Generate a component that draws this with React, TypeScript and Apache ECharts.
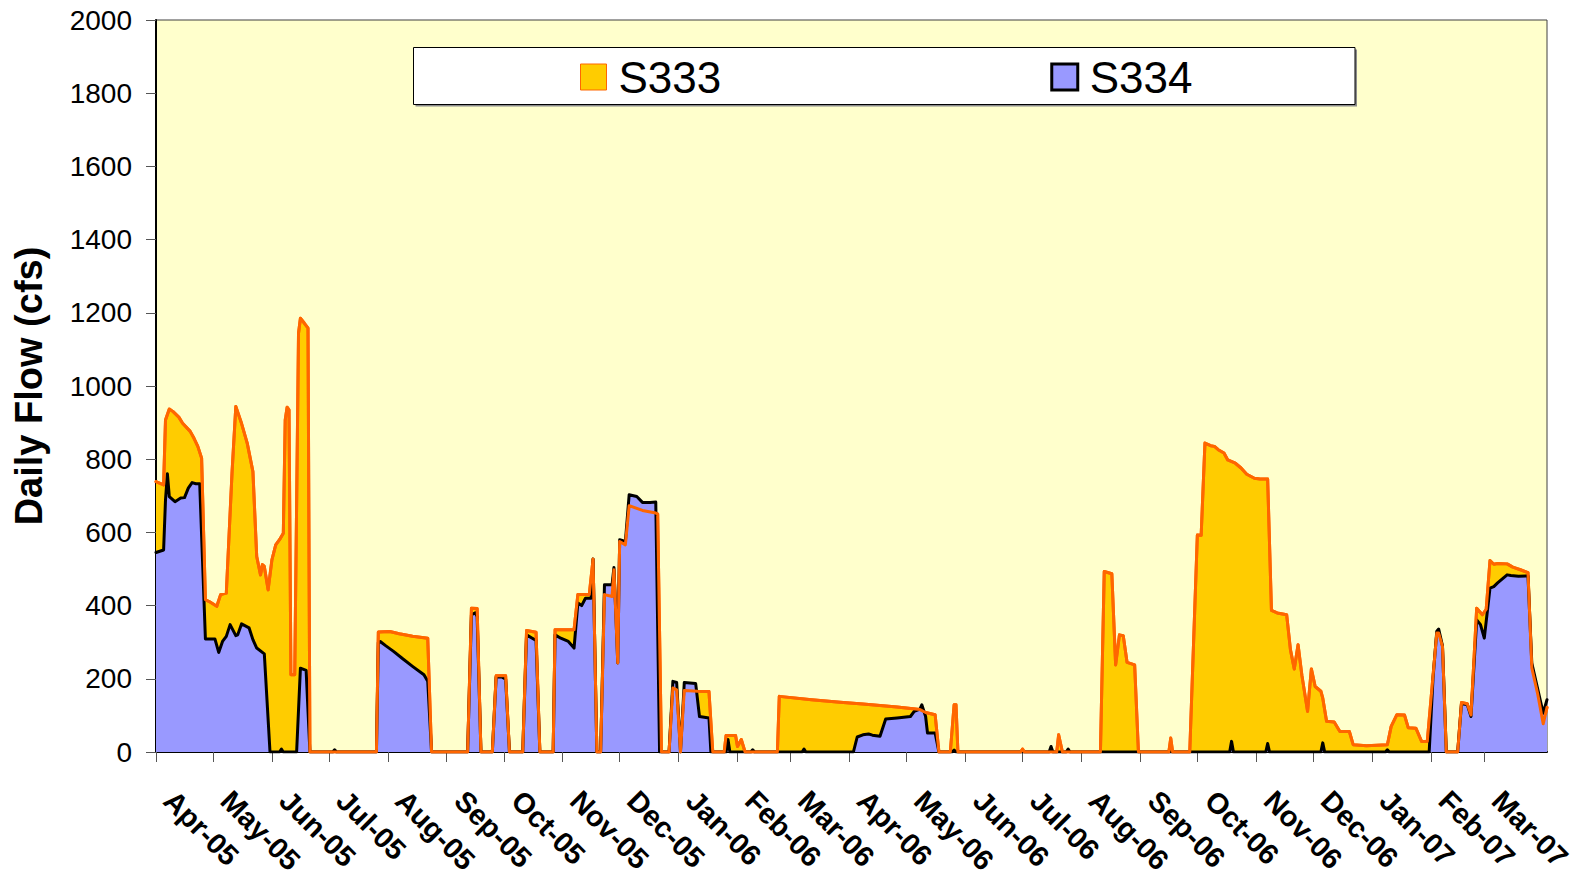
import React, { useEffect, useRef } from "react";
import * as echarts from "echarts";

// Axis: one category per day, starting 2005-04-01 (day index 0) to 2007-04-02 (day index 732)
const START_YEAR = 2005;
const START_MONTH = 3; // April (0-based)
const DAY_COUNT = 733;
const MONTHS = ["Jan", "Feb", "Mar", "Apr", "May", "Jun", "Jul", "Aug", "Sep", "Oct", "Nov", "Dec"];

const Y_MIN = 0;
const Y_MAX = 2000;
const Y_INTERVAL = 200;

const LEGEND_NAMES = ["S333", "S334"];

// [day index from 2005-04-01, daily flow (cfs)]
const S333: [number, number][] = [
  [0, 739], [4, 730], [5, 907], [7, 937], [9, 930], [12, 915], [14, 898], [18, 876], [20, 857], [22, 835], [24, 803],
  [26, 416], [28, 411], [32, 398], [34, 430], [37, 434], [40, 762], [42, 944], [45, 898], [48, 844], [51, 766],
  [53, 534], [55, 484], [56, 512], [57, 507], [59, 443], [61, 525], [63, 566], [65, 580], [67, 598], [68, 907],
  [69, 942], [70, 935], [71, 211], [73, 211], [75, 1144], [76, 1185], [78, 1172], [80, 1158], [81, 0],
  [116, 0], [117, 328], [123, 329], [128, 323], [135, 316], [143, 311], [145, 0],
  [164, 0], [166, 393], [169, 392], [171, 0],
  [177, 0], [179, 208], [184, 208], [186, 0],
  [193, 0], [195, 332], [200, 327], [202, 0],
  [209, 0], [210, 334], [220, 334], [222, 430], [228, 430], [230, 527], [232, 0], [234, 0], [236, 430], [240, 425],
  [241, 498], [243, 243], [244, 575], [247, 566], [249, 673], [256, 660], [263, 653], [264, 650], [266, 0],
  [270, 0], [272, 175], [274, 170], [276, 0], [278, 168], [285, 166], [291, 165], [293, 0],
  [299, 0], [300, 45], [305, 45], [306, 15], [308, 34], [310, 0],
  [327, 0], [328, 152], [345, 143], [360, 136], [372, 131], [390, 123], [402, 116], [405, 108], [410, 102], [412, 0],
  [418, 0], [420, 129], [421, 129], [422, 0],
  [455, 0], [456, 8], [457, 0],
  [474, 0], [475, 47], [477, 0],
  [497, 0], [499, 493], [503, 487], [505, 238], [507, 320], [509, 318], [511, 245], [515, 238], [517, 0],
  [533, 0], [534, 38], [535, 0],
  [544, 0], [548, 593], [550, 592], [552, 844], [555, 837], [557, 835], [559, 826], [562, 817], [564, 798],
  [568, 789], [571, 776], [574, 759], [578, 748], [581, 746], [585, 746], [587, 387], [590, 380], [595, 375],
  [597, 279], [599, 227], [601, 293], [603, 210], [606, 111], [608, 227], [610, 179], [613, 166], [614, 147],
  [616, 84], [620, 82], [623, 56], [628, 56], [630, 20], [637, 17], [648, 20], [650, 70], [653, 102], [657, 101],
  [659, 66], [663, 65], [666, 29], [669, 29], [674, 325], [675, 325], [677, 288], [679, 0],
  [685, 0], [687, 135], [690, 132], [692, 101], [695, 393], [698, 375], [700, 390], [702, 523], [704, 513],
  [706, 515], [711, 514], [714, 505], [718, 498], [722, 490], [724, 230], [727, 161], [730, 77], [732, 122],
];

const S334: [number, number][] = [
  [0, 545], [4, 552], [5, 689], [6, 760], [7, 698], [10, 684], [13, 694], [15, 695], [17, 721], [19, 736], [21, 733],
  [23, 733], [26, 309], [31, 309], [33, 272], [35, 302], [37, 316], [39, 348], [42, 318], [43, 320], [45, 350],
  [49, 339], [51, 307], [53, 284], [57, 268], [60, 0],
  [65, 0], [66, 8], [67, 0],
  [74, 0], [76, 229], [79, 223], [81, 0],
  [93, 0], [94, 6], [95, 0],
  [116, 0], [117, 299], [118, 302], [121, 290], [125, 275], [130, 254], [135, 234], [141, 211], [143, 193], [145, 0],
  [164, 0], [166, 375], [168, 380], [169, 370], [171, 0],
  [177, 0], [179, 205], [182, 205], [184, 199], [186, 0],
  [193, 0], [195, 320], [198, 311], [200, 305], [202, 0],
  [209, 0], [210, 320], [213, 311], [217, 302], [220, 284], [222, 407], [224, 400], [226, 420], [229, 420],
  [230, 527], [232, 0], [234, 0], [236, 457], [240, 457], [241, 504], [243, 243], [244, 580], [247, 575],
  [249, 703], [253, 698], [256, 682], [260, 682], [263, 683], [265, 0],
  [270, 0], [272, 193], [274, 190], [276, 0], [278, 190], [284, 187], [286, 97], [291, 93], [292, 0],
  [300, 0], [301, 34], [302, 0],
  [313, 0], [314, 6], [315, 0],
  [340, 0], [341, 8], [342, 0],
  [367, 0], [369, 41], [372, 47], [375, 49], [377, 46], [381, 43], [384, 90], [390, 93], [397, 97], [399, 111],
  [402, 117], [403, 129], [405, 97], [406, 52], [410, 52], [412, 0],
  [419, 0], [420, 5], [421, 0],
  [470, 0], [471, 15], [472, 0],
  [479, 0], [480, 8], [481, 0],
  [565, 0], [566, 29], [567, 0],
  [584, 0], [585, 23], [586, 0],
  [613, 0], [614, 25], [615, 0],
  [647, 0], [648, 6], [649, 0],
  [670, 0], [672, 200], [674, 330], [675, 336], [677, 290], [679, 0],
  [685, 0], [687, 132], [690, 130], [692, 97], [695, 361], [697, 348], [699, 311], [702, 448], [704, 452],
  [706, 462], [711, 484], [713, 482], [717, 480], [722, 481], [724, 243], [730, 106], [732, 143],
];

const pad = (n: number) => (n < 10 ? "0" + n : "" + n);
const categories: string[] = [];
for (let i = 0; i < DAY_COUNT; i++) {
  const dt = new Date(START_YEAR, START_MONTH, 1 + i);
  categories.push(`${dt.getFullYear()}-${pad(dt.getMonth() + 1)}-${pad(dt.getDate())}`);
}
const isMonthStart = (_i: number, v: string) => v.slice(8) === "01";
const monthLabel = (v: string) => {
  const [y, m] = v.split("-");
  return `${MONTHS[Number(m) - 1]}-${y.slice(2)}`;
};

const FONT = "Liberation Sans";

export default function App() {
  const ref = useRef<HTMLDivElement>(null);
  useEffect(() => {
    if (!ref.current) return;
    const chart = echarts.init(ref.current, null, { renderer: "svg" });
    const option: any = {
      animation: false,
      backgroundColor: "#ffffff",
      grid: {
        left: 156,
        right: 46,
        top: 20,
        bottom: 122,
        show: true,
        backgroundColor: "#FFFFCC",
        borderColor: "#404040",
        borderWidth: 1,
        containLabel: false,
        outerBoundsMode: "none",
      },
      legend: {
        data: [
          { name: LEGEND_NAMES[0], icon: "rect", itemStyle: { color: "#FFCC00", borderColor: "#FF6600", borderWidth: 1 } },
          { name: LEGEND_NAMES[1], icon: "rect", itemStyle: { color: "#9999FF", borderColor: "#000000", borderWidth: 3 } },
        ],
        left: 580,
        top: 55,
        padding: 0,
        itemWidth: 26,
        itemHeight: 26,
        itemGap: 329,
        selectedMode: false,
        z: 10,
        textStyle: { fontSize: 44, fontFamily: FONT, color: "#000", padding: [0, 0, 0, 7] },
      },
      graphic: {
        elements: [
          { type: "rect", z: 8, shape: { x: 415.5, y: 49.5, width: 941.5, height: 57 }, style: { fill: "#8c8c8c" } },
          { type: "rect", z: 9, shape: { x: 413.5, y: 47.5, width: 941.5, height: 57 }, style: { fill: "#ffffff", stroke: "#000000", lineWidth: 1 } },
        ],
      },
      xAxis: {
        type: "category",
        data: categories,
        boundaryGap: false,
        axisLine: { show: true, lineStyle: { color: "#000", width: 2 } },
        axisTick: { show: true, length: 10, interval: isMonthStart, lineStyle: { color: "#555", width: 1 } },
        axisLabel: {
          interval: isMonthStart,
          formatter: monthLabel,
          rotate: -45,
          fontSize: 29,
          fontWeight: "bold",
          fontFamily: FONT,
          color: "#000",
          margin: 31,
          padding: [0, 0, 0, 18],
          showMaxLabel: false,
          showMinLabel: true,
        },
        splitLine: { show: false },
      },
      yAxis: {
        type: "value",
        min: Y_MIN,
        max: Y_MAX,
        interval: Y_INTERVAL,
        name: "Daily Flow (cfs)",
        nameLocation: "middle",
        nameGap: 108,
        nameTextStyle: { fontSize: 38, fontWeight: "bold", fontFamily: FONT, color: "#000" },
        axisLine: { show: true, lineStyle: { color: "#000", width: 2 } },
        axisTick: { show: true, length: 10, lineStyle: { color: "#555", width: 1 } },
        axisLabel: { fontSize: 28, fontFamily: FONT, color: "#000", margin: 24, formatter: (v: number) => String(v) },
        splitLine: { show: false },
      },
      series: [
        {
          name: "S333",
          type: "line",
          data: S333,
          symbol: "none",
          z: 1,
          itemStyle: { color: "#FFCC00" },
          lineStyle: { color: "#FF6600", width: 3, join: "round", cap: "round" },
          areaStyle: { color: "#FFCC00", opacity: 1 },
        },
        {
          name: "S334",
          type: "line",
          data: S334,
          symbol: "none",
          z: 2,
          itemStyle: { color: "#9999FF" },
          lineStyle: { color: "#000000", width: 3, join: "round", cap: "round" },
          areaStyle: { color: "#9999FF", opacity: 1 },
        },
        {
          name: "S333 outline",
          type: "line",
          data: S333,
          symbol: "none",
          z: 3,
          itemStyle: { color: "#FF6600" },
          lineStyle: { color: "#FF6600", width: 3, join: "round", cap: "round" },
        },
      ],
    };
    chart.setOption(option);
    return () => chart.dispose();
  }, []);
  return <div ref={ref} style={{ position: "fixed", left: 0, top: 0, width: 1593, height: 874 }} />;
}
